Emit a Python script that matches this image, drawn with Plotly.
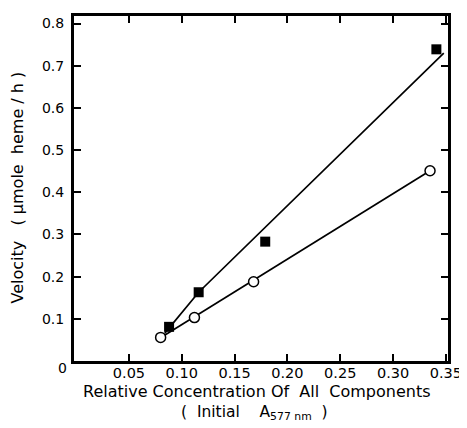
import plotly.graph_objects as go

# Data
filled_x = [0.088, 0.116, 0.179, 0.341]
filled_y = [0.081, 0.163, 0.283, 0.739]
open_x = [0.080, 0.112, 0.168, 0.335]
open_y = [0.056, 0.103, 0.188, 0.451]

# Drawn fit lines (endpoints)
fit_filled_x = [0.084, 0.116, 0.348]
fit_filled_y = [0.066, 0.163, 0.730]
fit_open_x = [0.083, 0.335]
fit_open_y = [0.060, 0.451]

x_ticks = [0.05, 0.10, 0.15, 0.20, 0.25, 0.30, 0.35]
x_ticktext = ["0.05", "0.10", "0.15", "0.20", "0.25", "0.30", "0.35"]
y_ticks = [0.1, 0.2, 0.3, 0.4, 0.5, 0.6, 0.7, 0.8]
y_ticktext = ["0.1", "0.2", "0.3", "0.4", "0.5", "0.6", "0.7", "0.8"]

FONT = "DejaVu Sans"

fig = go.Figure()
fig.add_trace(go.Scatter(x=fit_filled_x, y=fit_filled_y, mode="lines",
                         line=dict(color="black", width=1.7), hoverinfo="skip"))
fig.add_trace(go.Scatter(x=fit_open_x, y=fit_open_y, mode="lines",
                         line=dict(color="black", width=1.7), hoverinfo="skip"))
fig.add_trace(go.Scatter(x=filled_x, y=filled_y, mode="markers",
                         marker=dict(symbol="square", size=10, color="black",
                                     line=dict(color="black", width=0))))
fig.add_trace(go.Scatter(x=open_x, y=open_y, mode="markers",
                         marker=dict(symbol="circle", size=10, color="white",
                                     line=dict(color="black", width=1.5))))

axis_common = dict(
    showline=True, linecolor="black", linewidth=3, mirror="ticks",
    ticks="inside", ticklen=7, tickwidth=1.5, tickcolor="black",
    showgrid=False, zeroline=False,
)

fig.update_xaxes(range=[-0.002, 0.352], tickvals=x_ticks, ticktext=x_ticktext,
                 ticklabelstandoff=-3,
                 tickfont=dict(family=FONT, size=14.5, color="black"),
                 **axis_common)
fig.update_yaxes(range=[0, 0.818], tickvals=y_ticks, ticktext=y_ticktext,
                 ticklabelstandoff=4,
                 tickfont=dict(family=FONT, size=14, color="black"),
                 **axis_common)

fig.add_annotation(text="0", xref="paper", yref="paper", x=0, y=0,
                   xanchor="center", yanchor="middle", xshift=-12, yshift=-7,
                   showarrow=False, font=dict(family=FONT, size=14, color="black"))

fig.add_annotation(text="Relative Concentration Of  All  Components",
                   xref="paper", yref="paper", x=(257 - 74) / 374, y=0,
                   xanchor="center", yanchor="middle", yshift=-30,
                   showarrow=False, font=dict(family=FONT, size=16, color="black"))
fig.add_annotation(text="(  Initial    A<sub>577 nm</sub>  )",
                   xref="paper", yref="paper", x=(254 - 74) / 374, y=0,
                   xanchor="center", yanchor="middle", yshift=-52,
                   showarrow=False, font=dict(family=FONT, size=15.5, color="black"))
fig.add_annotation(text="Velocity   ( μmole  heme / h )",
                   xref="paper", yref="paper", x=0, y=(361 - 186) / 348,
                   xanchor="center", yanchor="middle", xshift=-56, textangle=-90,
                   showarrow=False, font=dict(family=FONT, size=16, color="black"))

# The page body has an 8px default margin, so the figure is 8px smaller
fig.update_layout(
    width=459, height=420,
    margin=dict(l=66, r=19, t=5, b=67),
    paper_bgcolor="white", plot_bgcolor="white",
    showlegend=False,
)

fig.write_html("out.html")
